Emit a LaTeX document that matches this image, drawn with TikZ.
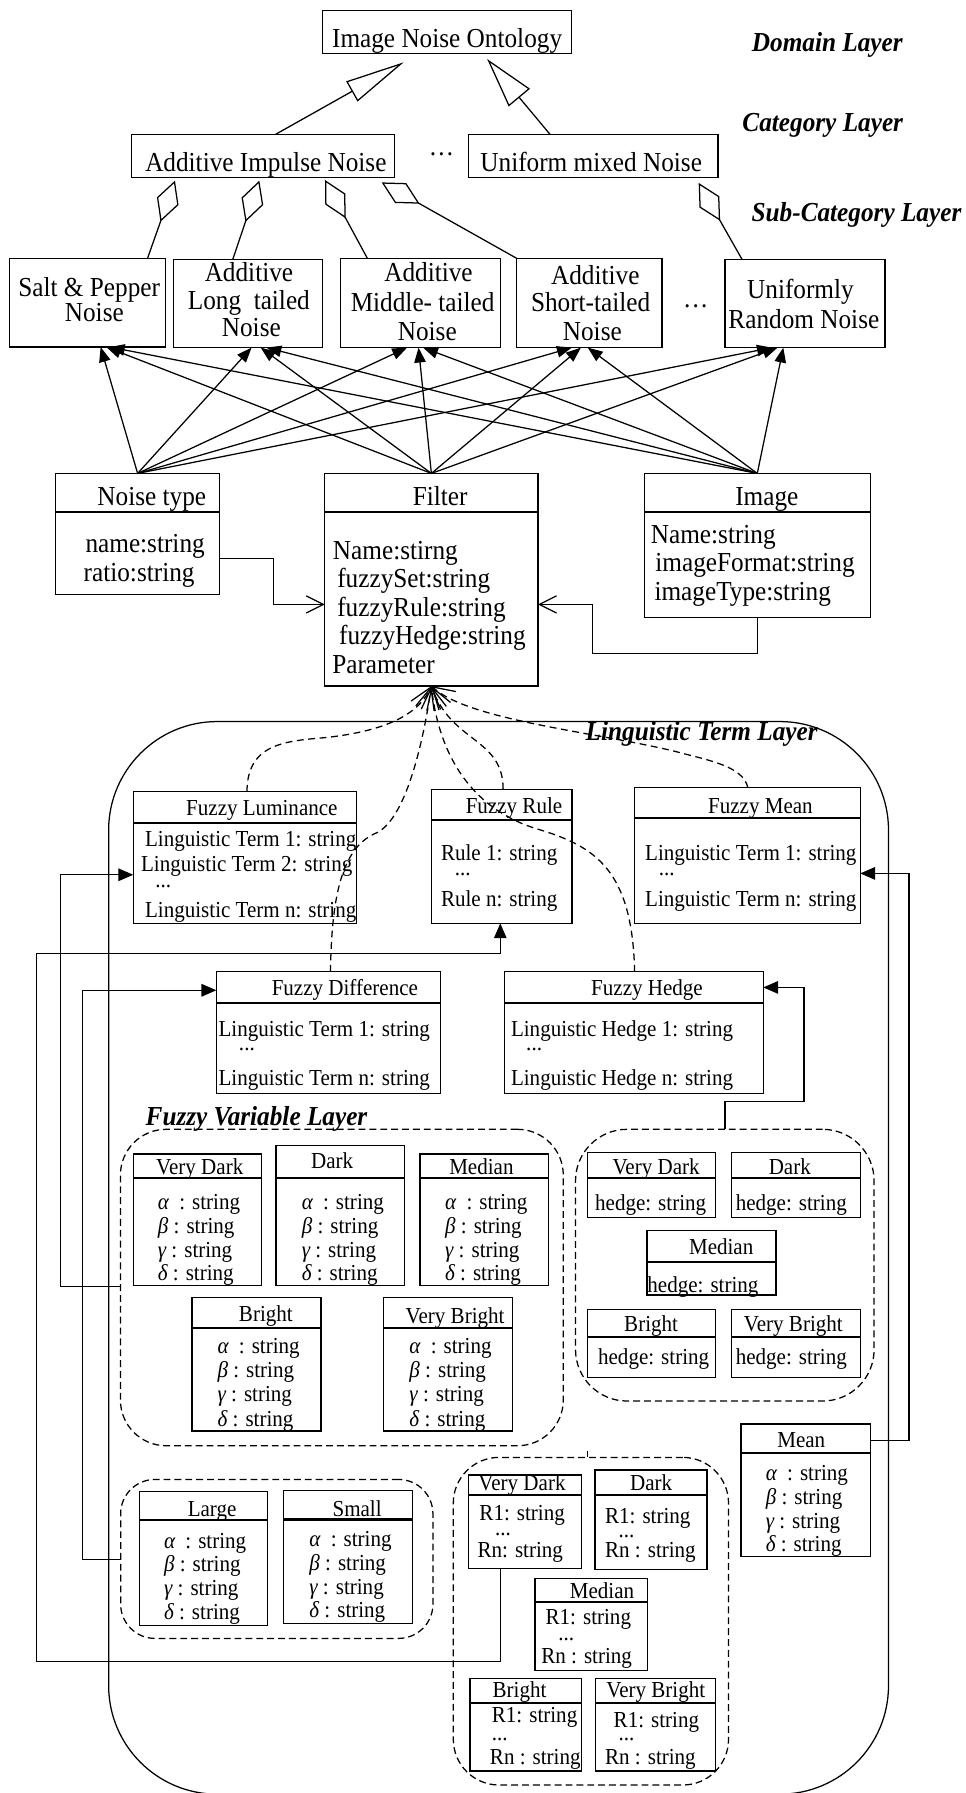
\documentclass[tikz,border=0pt]{standalone}
\usepackage{fontspec}
\setmainfont{Liberation Serif}[FakeStretch=0.92]
\usetikzlibrary{arrows.meta,calc}
\newcommand\fbig{\fontsize{24}{26}\selectfont}
\newcommand\fsml{\fontsize{20}{22}\selectfont}
\tikzset{
  box/.style={draw, line width=1.1pt, inner sep=0pt, outer sep=0pt, anchor=north west},
  divline/.style={line width=1.8pt},
  tb/.style={inner sep=0pt, font=\fbig, text height=16.8pt, text depth=4.8pt},
  ts/.style={inner sep=0pt, font=\fsml, text height=14pt, text depth=4pt},
  dt/.style={inner sep=0pt, font=\fsml, anchor=base west},
  layer/.style={inner sep=0pt, font=\fbig\bfseries\itshape, text height=16.8pt, text depth=4.8pt},
  group/.style={draw, dash pattern=on 6pt off 3.5pt, line width=1.1pt, inner sep=0pt, outer sep=0pt, anchor=north west},
  genl/.style={line width=1.1pt, -{Triangle[open, length=52pt, width=20pt]}},
  genr/.style={line width=1.1pt, -{Triangle[open, length=44pt, width=24pt]}},
  agg/.style={line width=1.1pt, -{Diamond[open, length=38pt, width=20pt]}},
  assoc/.style={line width=1.1pt, -{Triangle[length=13pt, width=10pt]}},
  dep/.style={line width=1.1pt, dash pattern=on 6pt off 4pt, -{Straight Barb[length=18pt, width=22pt]}},
  link/.style={line width=1.1pt, -{Straight Barb[length=15pt, width=15pt]}},
  flow/.style={line width=1.1pt, -{Triangle[length=13pt, width=11pt]}},
}
% class box: name, x1, y1, x2, y2
\newcommand\ubox[5]{\node[box, minimum width={#4-#2}, minimum height={#5-#3}] (#1) at (#2,#3) {};}
% compartment divider: box name, y
\newcommand\udiv[2]{\draw[divline] (#1.west |- 0,#2) -- (#1.east |- 0,#2);}
% box with a title compartment: name, x1, y1, x2, y2, divider y, title x, title y, title
\newcommand\tbox[9]{\ubox{#1}{#2}{#3}{#4}{#5}\udiv{#1}{#6}\node[ts] (#1-t) at (#7,#8) {#9};}
% the four membership parameters: x, y1, y2, y3, y4, name
\newcommand\abgd[6]{%
  \node[ts, anchor=west] (#6-a) at (#1,#2) {{\itshape α}\hspace{0.45em}: string};
  \node[ts, anchor=west] (#6-b) at (#1,#3) {{\itshape β} : string};
  \node[ts, anchor=west] (#6-g) at (#1,#4) {{\itshape γ} : string};
  \node[ts, anchor=west] (#6-d) at (#1,#5) {{\itshape δ} : string};}
% rule list: name, x R1, y R1, x dots, baseline of dots, x Rn, y Rn, Rn text
\newcommand\rlist[8]{%
  \node[ts, anchor=west] (#1-r1) at (#2,#3) {R1: string};
  \node[dt] (#1-rd) at (#4,#5) {...};
  \node[ts, anchor=west] (#1-rn) at (#6,#7) {#8};}

\begin{document}
\begin{tikzpicture}[x=1pt, y=-1pt]
\useasboundingbox (0,0) rectangle (844,1568);

% ---------- domain, category and sub-category layers ----------
\ubox{onto}{282}{9}{500}{47}
\node[tb] (onto-t) at (391,35.5) {Image Noise Ontology};
\node[layer] (l-dom) at (723.5,39) {Domain Layer};
\node[layer] (l-cat) at (719.5,109) {Category Layer};
\node[layer] (l-sub) at (749,188) {Sub-Category Layer};

\ubox{aimp}{115}{117.5}{345}{155}
\node[tb] (aimp-t) at (232.5,144) {Additive Impulse Noise};
\ubox{umn}{410}{117.5}{628}{155}
\node[tb] (umn-t) at (517,144) {Uniform mixed Noise};
\node[tb] (dots1) at (386,130) {…};

\draw[genl] (aimp.north -| 241,0) -- ($(onto.south west)+(71,7.5)$);
\draw[genr] (umn.north -| 481,0) -- ($(onto.south west)+(144,4.6)$);

\ubox{sp}{8}{226}{145}{303.5}
\node[tb] (sp-1) at (78,253) {Salt \& Pepper};
\node[tb] (sp-2) at (82.5,275) {Noise};
\ubox{lt}{152}{227}{282}{304}
\node[tb] (lt-1) at (217.7,240) {Additive};
\node[tb] (lt-2) at (217.6,265) {Long\ \ tailed};
\node[tb] (lt-3) at (219.8,288) {Noise};
\ubox{mt}{298}{226}{438}{304}
\node[tb] (mt-1) at (374.7,240) {Additive};
\node[tb] (mt-2) at (369.6,266) {Middle- tailed};
\node[tb] (mt-3) at (373.7,292) {Noise};
\ubox{st}{452}{226}{579}{304}
\node[tb] (st-1) at (520.6,243) {Additive};
\node[tb] (st-2) at (516.5,266) {Short-tailed};
\node[tb] (st-3) at (518,292) {Noise};
\node[tb] (dots2) at (608.5,263) {…};
\ubox{ur}{634}{227}{774}{304}
\node[tb] (ur-1) at (700,255) {Uniformly};
\node[tb] (ur-2) at (703,281) {Random Noise};

\draw[agg] (sp.north -| 129,0) -- ($(aimp.south -| 153,0)+(0,3)$);
\draw[agg] (lt.north -| 203.5,0) -- ($(aimp.south -| 226.8,0)+(0,3)$);
\draw[agg] (mt.north -| 321.3,0) -- ($(aimp.south -| 284.2,0)+(0,2.4)$);
\draw[agg] (st.north west) -- ($(aimp.south -| 333.8,0)+(0,4.5)$);
\draw[agg] (ur.north -| 649,0) -- ($(umn.south -| 611,0)+(0,5)$);

% ---------- noise type, filter and image classes ----------
\ubox{nt}{48.7}{414}{192}{520}
\udiv{nt}{447.5}
\node[tb] (nt-t) at (132.7,436) {Noise type};
\node[tb, anchor=west] (nt-1) at (74.6,477.6) {name:string};
\node[tb, anchor=west] (nt-2) at (73,502.4) {ratio:string};

\ubox{ft}{284}{414}{470.5}{600}
\udiv{ft}{447.5}
\node[tb] (ft-t) at (385,436) {Filter};
\node[tb, anchor=west] (ft-1) at (291,483.5) {Name:stirng};
\node[tb, anchor=west] (ft-2) at (294.8,508.2) {fuzzySet:string};
\node[tb, anchor=west] (ft-3) at (294.8,533) {fuzzyRule:string};
\node[tb, anchor=west] (ft-4) at (296.4,558) {fuzzyHedge:string};
\node[tb, anchor=west] (ft-5) at (290.4,582.6) {Parameter};

\ubox{im}{563.5}{414}{761}{540}
\udiv{im}{447.5}
\node[tb] (im-t) at (670.6,436) {Image};
\node[tb, anchor=west] (im-1) at (569,469) {Name:string};
\node[tb, anchor=west] (im-2) at (573,494.2) {imageFormat:string};
\node[tb, anchor=west] (im-3) at (572.2,519) {imageType:string};

% associations up to the sub-categories
\draw[assoc] (nt.north) -- (sp.south -| 88,0);
\draw[assoc] (ft.north) -- (sp.south -| 93,0);
\draw[assoc] (im.north) -- (sp.south -| 96,0);
\draw[assoc] (nt.north) -- (lt.south -| 220,0);
\draw[assoc] (ft.north) -- (lt.south -| 228,0);
\draw[assoc] (im.north) -- (lt.south -| 233,0);
\draw[assoc] (nt.north) -- (mt.south -| 356,0);
\draw[assoc] (ft.north) -- (mt.south -| 366,0);
\draw[assoc] (im.north) -- (mt.south -| 370,0);
\draw[assoc] (nt.north) -- (st.south -| 500,0);
\draw[assoc] (ft.north) -- (st.south -| 508,0);
\draw[assoc] (im.north) -- (st.south -| 514,0);
\draw[assoc] (nt.north) -- (ur.south -| 675,0);
\draw[assoc] (ft.north) -- (ur.south -| 680,0);
\draw[assoc] (im.north) -- (ur.south -| 685,0);

\draw[link] (nt.east |- 0,488.6) -- (239,488.6) -- (239,528.6) -- (ft.west |- 0,528.6);
\draw[link] (im.south) -- (im.south |- 0,571.8) -- (518,571.8) -- (518,528.6) -- (ft.east |- 0,528.6);

% ---------- linguistic term layer ----------
\node[draw, line width=1.1pt, rounded corners=95pt, inner sep=0pt, outer sep=0pt, anchor=north west,
      minimum width=682, minimum height=938] (ltl) at (95,631) {};
\node[layer] (ltl-t) at (613.6,642) {Linguistic Term Layer};

\tbox{flum}{116.5}{692.4}{311.9}{807.5}{719.6}{229}{708}{Fuzzy Luminance}
\node[ts, anchor=west] (flum-1) at (126.7,735.6) {Linguistic Term 1: string};
\node[ts, anchor=west] (flum-2) at (123.2,757.5) {Linguistic Term 2: string};
\node[dt] (flum-3) at (135.6,776) {...};
\node[ts, anchor=west] (flum-4) at (126.7,797.4) {Linguistic Term n: string};

\tbox{frule}{377.5}{690.3}{500.2}{807.5}{717.1}{449.5}{706.5}{Fuzzy Rule}
\node[ts, anchor=west] (frule-1) at (385.5,747.3) {Rule 1: string};
\node[dt] (frule-2) at (397.5,766) {...};
\node[ts, anchor=west] (frule-3) at (385.5,788.1) {Rule n: string};

\tbox{fmean}{555.1}{688.9}{752.3}{807.5}{715.7}{665}{706}{Fuzzy Mean}
\node[ts, anchor=west] (fmean-1) at (564,747.3) {Linguistic Term 1: string};
\node[dt] (fmean-2) at (576,766) {...};
\node[ts, anchor=west] (fmean-3) at (564,788.1) {Linguistic Term n: string};

\tbox{fdiff}{189.2}{849.8}{385.1}{956.2}{877}{301.6}{866}{Fuzzy Difference}
\node[ts, anchor=west] (fdiff-1) at (191,901.8) {Linguistic Term 1: string};
\node[dt] (fdiff-2) at (208.8,919) {...};
\node[ts, anchor=west] (fdiff-3) at (191,944.1) {Linguistic Term n: string};

\tbox{fhedge}{440.9}{849.8}{667.5}{956.2}{877}{565.8}{866}{Fuzzy Hedge}
\node[ts, anchor=west] (fhedge-1) at (446.7,901.8) {Linguistic Hedge 1: string};
\node[dt] (fhedge-2) at (460,919) {...};
\node[ts, anchor=west] (fhedge-3) at (446.7,944.1) {Linguistic Hedge n: string};

% dependencies of the filter on the fuzzy classes
\draw[dep] (flum.north -| 216,0) .. controls (216,650) and (250,648) .. (285,645)
           .. controls (330,640) and (365,628) .. (ft.south);
\draw[dep] (fdiff.north -| 289,0) .. controls (290,780) and (300,740) .. (330,728)
           .. controls (355,715) and (370,650) .. (ft.south);
\draw[dep] (frule.north -| 440,0) .. controls (440,645) and (395,650) .. (ft.south);
\draw[dep] (fhedge.north -| 555,0) .. controls (553,760) and (520,740) .. (470,725)
           .. controls (420,710) and (385,670) .. (ft.south);
\draw[dep] (fmean.north -| 654,0) .. controls (650,670) and (620,665) .. (590,657)
           .. controls (520,640) and (410,630) .. (ft.south);

% ---------- fuzzy variable layer ----------
\node[layer] (fvl-t) at (224.3,978) {Fuzzy Variable Layer};
\node[group, rounded corners=40pt, minimum width={492.6-105.3}, minimum height={1264.3-987.6}] (fvc) at (105.3,987.6) {};

\tbox{vd}{116.5}{1009.2}{228.9}{1124.4}{1030.5}{174.7}{1021.9}{Very Dark}
\abgd{137.9}{1052.8}{1073.8}{1094.7}{1115.2}{vd}
\tbox{dk}{241.4}{1001.9}{353.8}{1124.4}{1030.5}{290.5}{1016.9}{Dark}
\abgd{263.7}{1052.8}{1073.8}{1094.7}{1115.2}{dk}
\tbox{md}{367.2}{1009.2}{479.7}{1124.4}{1030.5}{421}{1021.9}{Median}
\abgd{389.1}{1052.8}{1073.8}{1094.7}{1115.2}{md}
\tbox{br}{167.8}{1134.9}{280.7}{1251.5}{1161.7}{232.5}{1151}{Bright}
\abgd{190.1}{1178.7}{1200}{1221}{1242.3}{br}
\tbox{vb}{335.5}{1134.9}{448}{1251.5}{1161.7}{398}{1152.5}{Very Bright}
\abgd{357.9}{1178.7}{1200}{1221}{1242.3}{vb}

% hedges
\node[group, rounded corners=45pt, minimum width={764.4-503.3}, minimum height={1225.2-987.6}] (hc) at (503.3,987.6) {};
\tbox{hvd}{513.6}{1008}{626}{1064.6}{1030.5}{573.8}{1021.9}{Very Dark}
\node[ts] (hvd-1) at (569,1054) {hedge: string};
\tbox{hdk}{639.4}{1008}{752.3}{1064.6}{1030.5}{690.7}{1021.9}{Dark}
\node[ts] (hdk-1) at (692,1054) {hedge: string};
\tbox{hmd}{565.8}{1076.3}{678.7}{1132.5}{1103.4}{630.7}{1091.8}{Median}
\node[ts, anchor=base west] (hmd-1) at (566,1130) {hedge: string};
\tbox{hbr}{513.6}{1145}{626}{1204.5}{1169}{569.4}{1159.2}{Bright}
\node[ts] (hbr-1) at (571.6,1188.3) {hedge: string};
\tbox{hvb}{639.4}{1145}{752.3}{1204.5}{1169}{693.8}{1159.2}{Very Bright}
\node[ts] (hvb-1) at (692,1188.3) {hedge: string};

% mean
\tbox{mean}{648}{1245.4}{761}{1361.4}{1271}{700.7}{1261}{Mean}
\abgd{669.5}{1289.5}{1310.8}{1331.8}{1352.2}{mean}

% differences
\node[group, rounded corners=30pt, minimum width={378.6-105.5}, minimum height={1432.8-1293.8}] (lsc) at (105.5,1293.8) {};
\tbox{lg}{121.7}{1304.6}{234.2}{1421.2}{1329.3}{185.5}{1321}{Large}
\abgd{143.3}{1349.3}{1369.7}{1390.7}{1411.1}{lg}
\tbox{sm}{247.7}{1303.7}{360.7}{1419.7}{1328.8}{312.3}{1321}{Small}
\abgd{270.4}{1347.8}{1368.2}{1389.2}{1409.6}{sm}

% rules
\node[group, rounded corners=40pt, minimum width={637.1-396.4}, minimum height={1561-1274.5}] (rc) at (396.4,1274.5) {};
\draw[line width=1pt] (rc.north -| 513.5,0) -- ++(0,-6);
\tbox{rvd}{410}{1290}{508.4}{1371.6}{1307.5}{456.5}{1298.3}{Very Dark}
\rlist{rvd}{419.1}{1324.5}{432.7}{1343}{417.5}{1356.6}{Rn: string}
\tbox{rdk}{520.3}{1285.6}{618.2}{1372.5}{1307.5}{569.5}{1298.3}{Dark}
\rlist{rdk}{529}{1327.4}{540.8}{1344.5}{529}{1356.6}{Rn : string}
\tbox{rmd}{467.8}{1380.4}{566.3}{1461.1}{1400.8}{526.5}{1393}{Median}
\rlist{rmd}{477}{1415.5}{488}{1434.8}{473.2}{1449.9}{Rn : string}
\tbox{rbr}{411}{1467.8}{508.4}{1548.8}{1489}{454.3}{1479.6}{Bright}
\rlist{rbr}{430}{1501.7}{430}{1522.3}{428.3}{1537.9}{Rn : string}
\tbox{rvb}{520.8}{1467.8}{625.7}{1548.8}{1489}{573.5}{1479.6}{Very Bright}
\rlist{rvb}{536.5}{1505.8}{540.8}{1522.3}{529}{1537.9}{Rn : string}

% ---------- links from the variable groups to the term classes ----------
\draw[flow] (fvc.west |- 0,1125) -- (53,1125) -- (53,765) -- (flum.west |- 0,765);
\draw[flow] (lsc.west |- 0,1363.5) -- (72,1363.5) -- (72,866) -- (fdiff.west |- 0,866);
\draw[flow, line width=0.8pt] (rvd.south -| 437.5,0) -- (437.5,1452.7) -- (32,1452.7) -- (32,833.7)
      -- (437.5,833.7) -- (frule.south -| 437.5,0);
\draw[flow] (hc.north -| 634,0) -- (634,963.5) -- (703,963.5) -- (703,863.5) -- (fhedge.east |- 0,863.5);
\draw[flow] (mean.east |- 0,1259.4) -- (795,1259.4) -- (795,763.8) -- (fmean.east |- 0,763.8);

\end{tikzpicture}
\end{document}
